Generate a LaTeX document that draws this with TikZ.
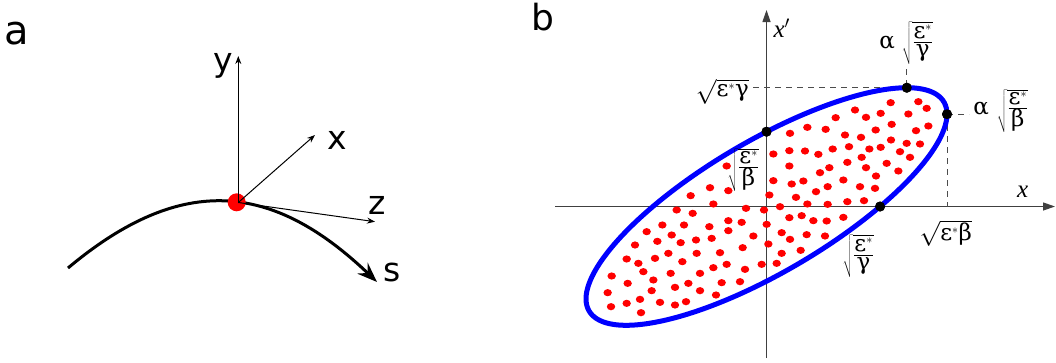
\documentclass[tikz,border=0pt]{standalone}
\usepackage{fontspec}
\setmainfont{DejaVu Sans}
\newfontfamily\tms{Liberation Serif}
\newfontfamily\gfont{DejaVu Serif}
\usetikzlibrary{arrows.meta}
\newcommand{\grk}[1]{\mbox{\gfont #1}}
\newcommand{\epsstar}{\mbox{\gfont ε}^{\scriptscriptstyle *}}
\newcommand{\sqfr}[2]{\sqrt{\frac{#1}{#2}}}
\begin{document}
\begin{tikzpicture}[x=1pt,y=-1pt,
  panellbl/.style={inner sep=0pt},
  lbla/.style={inner sep=0pt, font=\fontsize{33}{36}\selectfont},
  lblb/.style={inner sep=0pt, font=\fontsize{23}{27}\selectfont},
  thinarr/.style={line width=1pt, -{Stealth[length=8pt,width=6pt]}},
  patharr/.style={line width=3pt, -{Stealth[length=20pt,width=15pt,inset=7pt]}},
  axisb/.style={line width=1.2pt, draw=black!75, -{Triangle[length=12pt,width=8pt]}},
  guide/.style={line width=1pt, draw=black!70, dash pattern=on 6pt off 5pt},
  bdot/.style={circle, fill=black, minimum size=10pt, inner sep=0pt},
  rdot/.style={fill=red},
  reddisc/.style={circle, fill=red, minimum size=18pt, inner sep=0pt},
]
\useasboundingbox (0,0) rectangle (1056,362);

% ---------------- panel a ----------------
\node[panellbl, font=\fontsize{40}{44}\selectfont] (la) at (17.2,33.8) {a};
\coordinate (cs) at (68,268);
\coordinate (ce) at (377,282);
\draw[patharr] (cs) .. controls (183,171.7) and (273.6,183.3) .. (ce);
\node[reddisc] (rd) at (236.7,202.3) {};
\coordinate (O) at (238.3,202.5);
\coordinate (ytip) at (238.3,56);
\coordinate (xtip) at (315,135);
\coordinate (ztip) at (375,221.7);
\draw[thinarr] (O) -- (ytip);
\draw[thinarr] (O) -- (xtip);
\draw[thinarr] (O) -- (ztip);
\node[lbla] (ly) at (223.3,65.8) {y};
\node[lbla] (lx) at (337,140.8) {x};
\node[lbla] (lz) at (377.5,205.8) {z};
\node[lbla] (ls) at (391.7,272.8) {s};

% ---------------- panel b ----------------
\node[panellbl, font=\fontsize{36}{40}\selectfont] (lb) at (543.3,17) {b};
\coordinate (xl) at (555,206.5);
\coordinate (xr) at (1055,206.5);
\coordinate (yb) at (766.5,358);
\coordinate (yt) at (766.5,10);
\draw[axisb] (xl) -- (xr);
\draw[axisb] (yb) -- (yt);

\node[bdot] (P1) at (906.8,87.7) {};
\node[bdot] (P2) at (947,114.2) {};
\node[bdot] (P3) at (766.5,131.7) {};
\node[bdot] (P4) at (880.1,206.5) {};

\node[lblb, anchor=east] (lg) at (749,91.5) {$\sqrt{\epsstar\grk{γ}}$};
\coordinate (P1u) at (906.8,69);
\coordinate (P2r) at (969,114.2);
\coordinate (P2d) at (947,206.5);
\draw[guide] ([xshift=4pt]P1.center -| lg.east) -- (P1.center);
\draw[guide] (P1u) -- (P1.center);
\draw[guide] (P2.center) -- (P2r);
\draw[guide] (P2.center) -- (P2d);

\draw[line width=5pt, blue, line join=round]
  plot[smooth cycle, domain=0:357.5, samples=144]
  ({766.5+180.5*cos(\x)},{206.5-118.8*cos(\x-39)});

\foreach \a/\b in {
 992/8,1075/5,1100/25,885/30,962/40,1045/42,918/52,827/53,1105/78,1068/92,
 742/82,797/88,690/100,855/105,903/112,947/90,995/73,1040/130,1080/132,993/120,
 640/162,688/152,735/153,775/163,818/147,867/140,928/147,962/142,1020/155,1050/172,
 905/172,862/187,980/190,1015/213,
 500/198,688/198,780/218,808/203,918/203,948/228,850/240,900/260,945/265,
 505/272,450/263,392/287,640/242,695/252,730/243,768/275,803/260,628/285,708/292,
 460/312,350/330,398/340,558/325,612/330,660/320,742/312,803/313,862/305,912/302,
 505/362,545/367,620/373,688/353,725/347,760/362,800/363,850/352,448/380,372/375,
 307/375,260/395,335/405,
 505/392,580/408,665/398,690/418,740/404,795/408,455/415,408/420,362/428,292/424,
 225/435,625/432,548/443,722/451,
 665/460,480/458,410/460,325/460,285/475,200/477,367/485,235/490,460/503,500/493,
 605/493,650/490,555/508,
 332/520,420/520,250/515,280/540,155/528,203/550,345/562,385/550,485/548,540/545,
 420/572,468/585,275/572,143/578,240/598,300/607,378/605,345/615,153/620,200/610,
 243/638}
 \fill[rdot] ({560+\a/3},{100+\b/3}) ellipse[x radius=4.2pt, y radius=3.6pt];

\node[bdot] at (P1) {};
\node[bdot] at (P2) {};
\node[bdot] at (P3) {};
\node[bdot] at (P4) {};

\node[lblb, anchor=base west, font=\fontsize{25}{29}\selectfont] (lxp) at (773.3,37.3) {{\tms\itshape x}$'$};
\node[lblb, anchor=base west, font=\fontsize{25}{29}\selectfont] (lxa) at (1017,197.3) {{\tms\itshape x}};
\node[lblb] (ltop) at (906.2,42.8) {{\gfont α}\hspace{7pt}$\sqfr{\epsstar}{\grk{γ}}$};
\node[lblb] (lright) at (1000.8,110.8) {{\gfont α}\hspace{8pt}$\sqfr{\epsstar}{\grk{β}}$};
\node[lblb] (lbeta) at (743.3,170) {$\sqfr{\epsstar}{\grk{β}}$};
\node[lblb] (lgam) at (858.3,255.8) {$\sqfr{\epsstar}{\grk{γ}}$};
\node[lblb] (leb) at (945.8,233.3) {$\sqrt{\epsstar\grk{β}}$};
\end{tikzpicture}
\end{document}
